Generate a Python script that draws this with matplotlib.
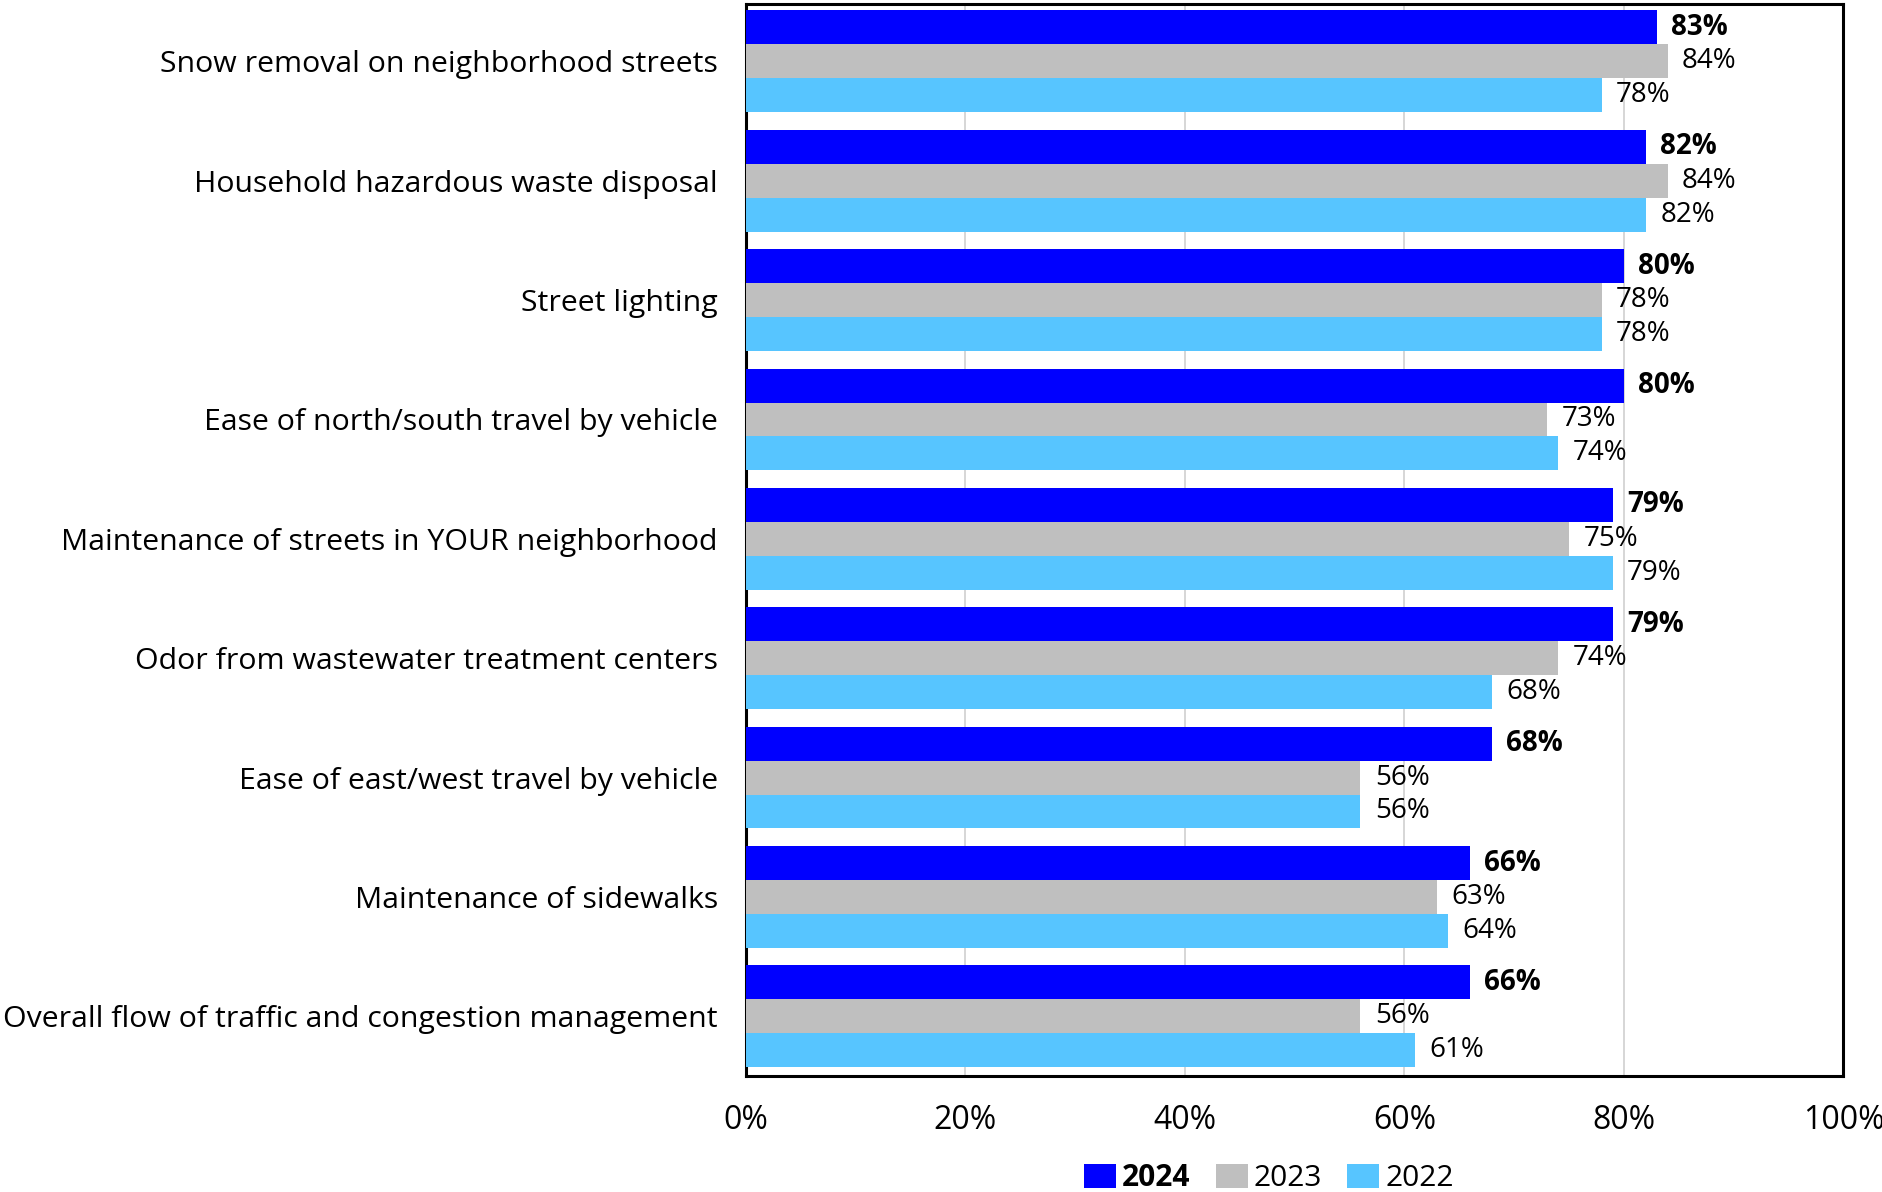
import matplotlib
matplotlib.use("Agg")
import matplotlib.pyplot as plt
import numpy as np
from matplotlib.patches import Patch

plt.rcParams['font.family'] = ['Open Sans', 'DejaVu Sans']

categories = [
    "Snow removal on neighborhood streets",
    "Household hazardous waste disposal",
    "Street lighting",
    "Ease of north/south travel by vehicle",
    "Maintenance of streets in YOUR neighborhood",
    "Odor from wastewater treatment centers",
    "Ease of east/west travel by vehicle",
    "Maintenance of sidewalks",
    "Overall flow of traffic and congestion management",
]
v2024 = [83, 82, 80, 80, 79, 79, 68, 66, 66]
v2023 = [84, 84, 78, 73, 75, 74, 56, 63, 56]
v2022 = [78, 82, 78, 74, 79, 68, 56, 64, 61]
series_names = ["2024", "2023", "2022"]
colors = ["#0000FF", "#BFBFBF", "#57C5FF"]
xticks = [0, 20, 40, 60, 80, 100]

fig = plt.figure(figsize=(18.83, 11.92), dpi=100)
ax = fig.add_axes([0.396, 0.0973, 0.583, 0.8993])

n = len(categories)
y = np.arange(n)
bh = 0.284
series = [v2024, v2023, v2022]
offsets = [-bh, 0, bh]
for vals, c, off, name in zip(series, colors, offsets, series_names):
    bars = ax.barh(y + off, vals, height=bh, color=c, zorder=3, label=name)
    for b, v in zip(bars, vals):
        ax.text(v + 1.3, b.get_y() + bh / 2, f"{v}%", va='center', ha='left',
                fontsize=20, fontweight='bold' if name == "2024" else 'normal',
                color='black', zorder=4)

ax.set_ylim(n - 0.5, -0.48)
ax.set_xlim(0, 100)
ax.set_yticks(y)
ax.set_yticklabels(categories, fontsize=21.8)
ax.set_xticks(xticks)
ax.set_xticklabels([f"{t}%" for t in xticks], fontsize=23)
ax.tick_params(axis='both', length=0)
ax.tick_params(axis='y', pad=20)
ax.tick_params(axis='x', pad=20)
ax.xaxis.grid(True, color='#D0D0D0', linewidth=1.2, zorder=0)
ax.set_axisbelow(True)
for s in ax.spines.values():
    s.set_linewidth(2.2)
    s.set_color('black')

handles = [Patch(facecolor=c, edgecolor='none') for c in colors]
leg = fig.legend(handles, series_names, loc='center', bbox_to_anchor=(1269 / 1883, 1 - 1178 / 1192),
                 ncol=3, frameon=False, fontsize=21.5, handlelength=1.07, handleheight=0.85,
                 handletextpad=0.2, columnspacing=0.84)
leg.get_texts()[0].set_fontweight('bold')

fig.savefig("out.png", dpi=100)
